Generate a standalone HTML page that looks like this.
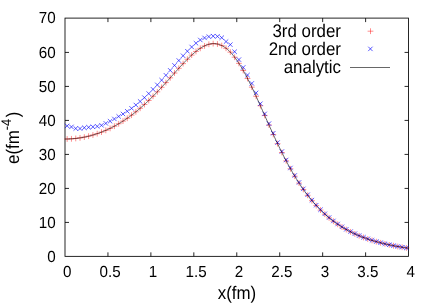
<!DOCTYPE html>
<html><head><meta charset="utf-8"><title>plot</title><style>html,body{margin:0;padding:0;background:#fff;width:436px;height:305px;overflow:hidden}</style></head><body>
<svg width="436" height="305" viewBox="0 0 436 305" style="position:absolute;left:0;top:0;will-change:transform">
<rect width="436" height="305" fill="#fff"/>
<g stroke="#000" stroke-width="0.85" fill="none">
<rect x="65.0" y="18.1" width="343.55" height="238.25000000000003"/>
<path d="M107.94 256.35V252.35000000000002M107.94 18.1V22.1M150.89 256.35V252.35000000000002M150.89 18.1V22.1M193.83 256.35V252.35000000000002M193.83 18.1V22.1M236.78 256.35V252.35000000000002M236.78 18.1V22.1M279.72 256.35V252.35000000000002M279.72 18.1V22.1M322.66 256.35V252.35000000000002M322.66 18.1V22.1M365.61 256.35V252.35000000000002M365.61 18.1V22.1M65.0 222.42H69.0M408.55 222.42H404.55M65.0 188.42H69.0M408.55 188.42H404.55M65.0 154.42H69.0M408.55 154.42H404.55M65.0 120.42H69.0M408.55 120.42H404.55M65.0 86.42H69.0M408.55 86.42H404.55M65.0 52.42H69.0M408.55 52.42H404.55"/>
</g>
<path d="M64.25 139.00H70.05M67.15 136.10V141.90M68.54 138.81H74.34M71.44 135.91V141.71M72.84 138.44H78.64M75.74 135.54V141.34M77.13 137.87H82.93M80.03 134.97V140.77M81.42 137.11H87.22M84.32 134.21V140.01M85.72 136.16H91.52M88.62 133.26V139.06M90.01 135.01H95.81M92.91 132.11V137.91M94.31 133.66H100.11M97.21 130.76V136.56M98.60 132.11H104.40M101.50 129.21V135.01M102.90 130.35H108.70M105.80 127.45V133.25M107.19 128.37H112.99M110.09 125.47V131.27M111.49 126.18H117.29M114.39 123.28V129.08M115.78 123.76H121.58M118.68 120.86V126.66M120.07 121.12H125.87M122.97 118.22V124.02M124.37 118.25H130.17M127.27 115.35V121.15M128.66 115.15H134.46M131.56 112.25V118.05M132.96 111.81H138.76M135.86 108.91V114.71M137.25 108.25H143.05M140.15 105.35V111.15M141.55 104.46H147.35M144.45 101.56V107.36M145.84 100.45H151.64M148.74 97.55V103.35M150.13 96.24H155.93M153.03 93.34V99.14M154.43 91.84H160.23M157.33 88.94V94.74M158.72 87.28H164.52M161.62 84.38V90.18M163.02 82.60H168.82M165.92 79.70V85.50M167.31 77.83H173.11M170.21 74.93V80.73M171.61 73.04H177.41M174.51 70.14V75.94M175.90 68.28H181.70M178.80 65.38V71.18M180.20 63.64H186.00M183.10 60.74V66.54M184.49 59.21H190.29M187.39 56.31V62.11M188.78 55.10H194.58M191.68 52.20V58.00M193.08 51.43H198.88M195.98 48.53V54.33M197.37 48.32H203.17M200.27 45.42V51.22M201.67 45.89H207.47M204.57 42.99V48.79M205.96 44.29H211.76M208.86 41.39V47.19M210.26 43.64H216.06M213.16 40.74V46.54M214.55 44.03H220.35M217.45 41.13V46.93M218.84 45.55H224.64M221.74 42.65V48.45M223.14 48.25H228.94M226.04 45.35V51.15M227.43 52.14H233.23M230.33 49.24V55.04M231.73 57.20H237.53M234.63 54.30V60.10M236.02 63.35H241.82M238.92 60.45V66.25M240.32 70.49H246.12M243.22 67.59V73.39M244.61 78.47H250.41M247.51 75.57V81.37M248.91 87.13H254.71M251.81 84.23V90.03M253.20 96.29H259.00M256.10 93.39V99.19M257.49 105.78H263.29M260.39 102.88V108.68M261.79 115.41H267.59M264.69 112.51V118.31M266.08 125.02H271.88M268.98 122.12V127.92M270.38 134.48H276.18M273.28 131.58V137.38M274.67 143.67H280.47M277.57 140.77V146.57M278.97 152.50H284.77M281.87 149.60V155.40M283.26 160.89H289.06M286.16 157.99V163.79M287.55 168.80H293.35M290.45 165.90V171.70M291.85 176.20H297.65M294.75 173.30V179.10M296.14 183.08H301.94M299.04 180.18V185.98M300.44 189.44H306.24M303.34 186.54V192.34M304.73 195.30H310.53M307.63 192.40V198.20M309.03 200.68H314.83M311.93 197.78V203.58M313.32 205.59H319.12M316.22 202.69V208.49M317.62 210.07H323.42M320.52 207.17V212.97M321.91 214.15H327.71M324.81 211.25V217.05M326.20 217.86H332.00M329.10 214.96V220.76M330.50 221.23H336.30M333.40 218.33V224.13M334.79 224.28H340.59M337.69 221.38V227.18M339.09 227.05H344.89M341.99 224.15V229.95M343.38 229.56H349.18M346.28 226.66V232.46M347.68 231.84H353.48M350.58 228.94V234.74M351.97 233.90H357.77M354.87 231.00V236.80M356.26 235.77H362.06M359.16 232.87V238.67M360.56 237.46H366.36M363.46 234.56V240.36M364.85 239.00H370.65M367.75 236.10V241.90M369.15 240.40H374.95M372.05 237.50V243.30M373.44 241.67H379.24M376.34 238.77V244.57M377.74 242.83H383.54M380.64 239.93V245.73M382.03 243.88H387.83M384.93 240.98V246.78M386.33 244.84H392.13M389.23 241.94V247.74M390.62 245.71H396.42M393.52 242.81V248.61M394.91 246.51H400.71M397.81 243.61V249.41M399.21 247.24H405.01M402.11 244.34V250.14M403.50 247.90H409.30M406.40 245.00V250.80M367.60 31.2H373.40M370.5 28.30V34.10" stroke="#f00" stroke-width="0.45" fill="none"/>
<path d="M64.95 123.70L69.35 128.10M64.95 128.10L69.35 123.70M69.24 124.70L73.64 129.10M69.24 129.10L73.64 124.70M73.54 126.30L77.94 130.70M73.54 130.70L77.94 126.30M77.83 126.38L82.23 130.78M77.83 130.78L82.23 126.38M82.12 125.55L86.52 129.95M82.12 129.95L86.52 125.55M86.42 125.11L90.82 129.51M86.42 129.51L90.82 125.11M90.71 124.64L95.11 129.04M90.71 129.04L95.11 124.64M95.01 124.15L99.41 128.55M95.01 128.55L99.41 124.15M99.30 123.10L103.70 127.50M99.30 127.50L103.70 123.10M103.60 121.17L108.00 125.57M103.60 125.57L108.00 121.17M107.89 119.02L112.29 123.42M107.89 123.42L112.29 119.02M112.19 116.75L116.59 121.15M112.19 121.15L116.59 116.75M116.48 114.24L120.88 118.64M116.48 118.64L120.88 114.24M120.77 111.77L125.17 116.17M120.77 116.17L125.17 111.77M125.07 109.07L129.47 113.47M125.07 113.47L129.47 109.07M129.36 106.14L133.76 110.54M129.36 110.54L133.76 106.14M133.66 102.81L138.06 107.21M133.66 107.21L138.06 102.81M137.95 99.24L142.35 103.64M137.95 103.64L142.35 99.24M142.25 95.45L146.65 99.85M142.25 99.85L146.65 95.45M146.54 91.39L150.94 95.79M146.54 95.79L150.94 91.39M150.83 87.12L155.23 91.52M150.83 91.52L155.23 87.12M155.13 82.66L159.53 87.06M155.13 87.06L159.53 82.66M159.42 77.94L163.82 82.34M159.42 82.34L163.82 77.94M163.72 73.08L168.12 77.48M163.72 77.48L168.12 73.08M168.01 68.14L172.41 72.54M168.01 72.54L172.41 68.14M172.31 63.18L176.71 67.58M172.31 67.58L176.71 63.18M176.60 58.31L181.00 62.71M176.60 62.71L181.00 58.31M180.90 53.56L185.30 57.96M180.90 57.96L185.30 53.56M185.19 49.01L189.59 53.41M185.19 53.41L189.59 49.01M189.48 44.79L193.88 49.19M189.48 49.19L193.88 44.79M193.78 41.00L198.18 45.40M193.78 45.40L198.18 41.00M198.07 37.78L202.47 42.18M198.07 42.18L202.47 37.78M202.37 35.70L206.77 40.10M202.37 40.10L206.77 35.70M206.66 34.44L211.06 38.84M206.66 38.84L211.06 34.44M210.96 33.95L215.36 38.35M210.96 38.35L215.36 33.95M215.25 34.17L219.65 38.57M215.25 38.57L219.65 34.17M219.54 35.52L223.94 39.92M219.54 39.92L223.94 35.52M223.84 39.41L228.24 43.81M223.84 43.81L228.24 39.41M228.13 42.46L232.53 46.86M228.13 46.86L232.53 42.46M232.43 49.55L236.83 53.95M232.43 53.95L236.83 49.55M236.72 57.41L241.12 61.81M236.72 61.81L241.12 57.41M241.02 65.22L245.42 69.62M241.02 69.62L245.42 65.22M245.31 72.86L249.71 77.26M245.31 77.26L249.71 72.86M249.61 81.19L254.01 85.59M249.61 85.59L254.01 81.19M253.90 90.69L258.30 95.09M253.90 95.09L258.30 90.69M258.19 101.53L262.59 105.93M258.19 105.93L262.59 101.53M262.49 111.68L266.89 116.08M262.49 116.08L266.89 111.68M266.78 121.40L271.18 125.80M266.78 125.80L271.18 121.40M271.08 131.01L275.48 135.41M271.08 135.41L275.48 131.01M275.37 140.37L279.77 144.77M275.37 144.77L279.77 140.37M279.67 149.32L284.07 153.72M279.67 153.72L284.07 149.32M283.96 157.79L288.36 162.19M283.96 162.19L288.36 157.79M288.25 165.79L292.65 170.19M288.25 170.19L292.65 165.79M292.55 173.27L296.95 177.67M292.55 177.67L296.95 173.27M296.84 180.23L301.24 184.63M296.84 184.63L301.24 180.23M301.14 186.65L305.54 191.05M301.14 191.05L305.54 186.65M305.43 192.56L309.83 196.96M305.43 196.96L309.83 192.56M309.73 197.99L314.13 202.39M309.73 202.39L314.13 197.99M314.02 202.97L318.42 207.37M314.02 207.37L318.42 202.97M318.32 207.50L322.72 211.90M318.32 211.90L322.72 207.50M322.61 211.62L327.01 216.02M322.61 216.02L327.01 211.62M326.90 215.35L331.30 219.75M326.90 219.75L331.30 215.35M331.20 218.73L335.60 223.13M331.20 223.13L335.60 218.73M335.49 221.80L339.89 226.20M335.49 226.20L339.89 221.80M339.79 224.59L344.19 228.99M339.79 228.99L344.19 224.59M344.08 227.11L348.48 231.51M344.08 231.51L348.48 227.11M348.38 229.41L352.78 233.81M348.38 233.81L352.78 229.41M352.67 231.48L357.07 235.88M352.67 235.88L357.07 231.48M356.96 233.37L361.36 237.77M356.96 237.77L361.36 233.37M361.26 235.08L365.66 239.48M361.26 239.48L365.66 235.08M365.55 236.64L369.95 241.04M365.55 241.04L369.95 236.64M369.85 238.05L374.25 242.45M369.85 242.45L374.25 238.05M374.14 239.34L378.54 243.74M374.14 243.74L378.54 239.34M378.44 240.51L382.84 244.91M378.44 244.91L382.84 240.51M382.73 241.58L387.13 245.98M382.73 245.98L387.13 241.58M387.03 242.56L391.43 246.96M387.03 246.96L391.43 242.56M391.32 243.45L395.72 247.85M391.32 247.85L395.72 243.45M395.61 244.26L400.01 248.66M395.61 248.66L400.01 244.26M399.91 245.01L404.31 249.41M399.91 249.41L404.31 245.01M404.20 245.69L408.60 250.09M404.20 250.09L408.60 245.69M368.20 46.70L372.60 51.10M368.20 51.10L372.60 46.70" stroke="#00f" stroke-width="0.65" fill="none"/>
<polyline points="65.00,139.03 65.86,139.02 66.72,139.01 67.58,138.99 68.44,138.97 69.29,138.93 70.15,138.89 71.01,138.84 71.87,138.79 72.73,138.72 73.59,138.65 74.45,138.57 75.31,138.48 76.17,138.39 77.02,138.29 77.88,138.18 78.74,138.06 79.60,137.94 80.46,137.80 81.32,137.66 82.18,137.52 83.04,137.36 83.90,137.20 84.75,137.03 85.61,136.85 86.47,136.66 87.33,136.47 88.19,136.27 89.05,136.06 89.91,135.84 90.77,135.61 91.63,135.38 92.48,135.14 93.34,134.89 94.20,134.63 95.06,134.36 95.92,134.09 96.78,133.81 97.64,133.52 98.50,133.22 99.36,132.91 100.21,132.60 101.07,132.27 101.93,131.94 102.79,131.60 103.65,131.26 104.51,130.90 105.37,130.53 106.23,130.16 107.08,129.78 107.94,129.39 108.80,128.99 109.66,128.58 110.52,128.16 111.38,127.74 112.24,127.30 113.10,126.86 113.96,126.41 114.81,125.95 115.67,125.48 116.53,125.00 117.39,124.51 118.25,124.01 119.11,123.51 119.97,122.99 120.83,122.47 121.69,121.94 122.54,121.39 123.40,120.84 124.26,120.28 125.12,119.71 125.98,119.14 126.84,118.55 127.70,117.95 128.56,117.34 129.42,116.73 130.27,116.10 131.13,115.47 131.99,114.82 132.85,114.17 133.71,113.51 134.57,112.84 135.43,112.16 136.29,111.47 137.15,110.77 138.00,110.06 138.86,109.34 139.72,108.62 140.58,107.88 141.44,107.14 142.30,106.38 143.16,105.62 144.02,104.85 144.88,104.07 145.73,103.28 146.59,102.48 147.45,101.68 148.31,100.86 149.17,100.04 150.03,99.21 150.89,98.37 151.75,97.52 152.61,96.67 153.46,95.81 154.32,94.94 155.18,94.06 156.04,93.18 156.90,92.29 157.76,91.39 158.62,90.49 159.48,89.58 160.34,88.67 161.19,87.75 162.05,86.82 162.91,85.89 163.77,84.95 164.63,84.01 165.49,83.07 166.35,82.12 167.21,81.17 168.06,80.22 168.92,79.27 169.78,78.31 170.64,77.35 171.50,76.39 172.36,75.43 173.22,74.47 174.08,73.51 174.94,72.56 175.79,71.60 176.65,70.65 177.51,69.70 178.37,68.75 179.23,67.81 180.09,66.87 180.95,65.94 181.81,65.01 182.67,64.10 183.52,63.19 184.38,62.29 185.24,61.39 186.10,60.51 186.96,59.64 187.82,58.79 188.68,57.94 189.54,57.11 190.40,56.30 191.25,55.50 192.11,54.71 192.97,53.95 193.83,53.20 194.69,52.48 195.55,51.77 196.41,51.09 197.27,50.43 198.13,49.79 198.98,49.18 199.84,48.60 200.70,48.04 201.56,47.51 202.42,47.01 203.28,46.54 204.14,46.10 205.00,45.70 205.86,45.32 206.71,44.98 207.57,44.68 208.43,44.41 209.29,44.18 210.15,43.99 211.01,43.84 211.87,43.73 212.73,43.66 213.59,43.63 214.44,43.64 215.30,43.70 216.16,43.80 217.02,43.94 217.88,44.13 218.74,44.36 219.60,44.64 220.46,44.97 221.32,45.34 222.17,45.77 223.03,46.23 223.89,46.75 224.75,47.31 225.61,47.93 226.47,48.59 227.33,49.29 228.19,50.05 229.05,50.85 229.90,51.70 230.76,52.60 231.62,53.54 232.48,54.53 233.34,55.56 234.20,56.64 235.06,57.77 235.92,58.94 236.78,60.15 237.63,61.40 238.49,62.69 239.35,64.02 240.21,65.39 241.07,66.80 241.93,68.25 242.79,69.73 243.65,71.25 244.50,72.80 245.36,74.38 246.22,75.99 247.08,77.64 247.94,79.31 248.80,81.00 249.66,82.72 250.52,84.47 251.38,86.24 252.23,88.03 253.09,89.83 253.95,91.66 254.81,93.50 255.67,95.36 256.53,97.23 257.39,99.11 258.25,101.01 259.11,102.91 259.96,104.82 260.82,106.74 261.68,108.66 262.54,110.58 263.40,112.51 264.26,114.44 265.12,116.37 265.98,118.30 266.84,120.23 267.69,122.15 268.55,124.07 269.41,125.98 270.27,127.88 271.13,129.78 271.99,131.67 272.85,133.55 273.71,135.42 274.57,137.27 275.42,139.12 276.28,140.95 277.14,142.77 278.00,144.57 278.86,146.36 279.72,148.14 280.58,149.89 281.44,151.63 282.30,153.36 283.15,155.06 284.01,156.75 284.87,158.42 285.73,160.07 286.59,161.70 287.45,163.31 288.31,164.90 289.17,166.48 290.03,168.03 290.88,169.56 291.74,171.07 292.60,172.56 293.46,174.03 294.32,175.48 295.18,176.91 296.04,178.32 296.90,179.70 297.76,181.07 298.61,182.41 299.47,183.74 300.33,185.04 301.19,186.33 302.05,187.59 302.91,188.83 303.77,190.05 304.63,191.25 305.49,192.43 306.34,193.60 307.20,194.74 308.06,195.86 308.92,196.96 309.78,198.05 310.64,199.11 311.50,200.16 312.36,201.19 313.21,202.20 314.07,203.19 314.93,204.16 315.79,205.12 316.65,206.06 317.51,206.98 318.37,207.88 319.23,208.77 320.09,209.64 320.94,210.50 321.80,211.34 322.66,212.16 323.52,212.97 324.38,213.76 325.24,214.54 326.10,215.30 326.96,216.05 327.82,216.79 328.67,217.51 329.53,218.21 330.39,218.91 331.25,219.59 332.11,220.25 332.97,220.91 333.83,221.55 334.69,222.18 335.55,222.79 336.40,223.40 337.26,223.99 338.12,224.57 338.98,225.14 339.84,225.70 340.70,226.25 341.56,226.79 342.42,227.31 343.28,227.83 344.13,228.34 344.99,228.83 345.85,229.32 346.71,229.80 347.57,230.27 348.43,230.73 349.29,231.18 350.15,231.62 351.01,232.05 351.86,232.48 352.72,232.89 353.58,233.30 354.44,233.70 355.30,234.09 356.16,234.48 357.02,234.85 357.88,235.22 358.74,235.59 359.59,235.94 360.45,236.29 361.31,236.64 362.17,236.97 363.03,237.30 363.89,237.62 364.75,237.94 365.61,238.25 366.47,238.56 367.32,238.85 368.18,239.15 369.04,239.44 369.90,239.72 370.76,239.99 371.62,240.27 372.48,240.53 373.34,240.79 374.19,241.05 375.05,241.30 375.91,241.55 376.77,241.79 377.63,242.03 378.49,242.26 379.35,242.49 380.21,242.71 381.07,242.94 381.92,243.15 382.78,243.36 383.64,243.57 384.50,243.78 385.36,243.98 386.22,244.17 387.08,244.37 387.94,244.56 388.80,244.74 389.65,244.93 390.51,245.11 391.37,245.28 392.23,245.46 393.09,245.63 393.95,245.79 394.81,245.96 395.67,246.12 396.53,246.28 397.38,246.43 398.24,246.58 399.10,246.73 399.96,246.88 400.82,247.02 401.68,247.17 402.54,247.31 403.40,247.44 404.26,247.58 405.11,247.71 405.97,247.84 406.83,247.97 407.69,248.09 408.55,248.21" stroke="#000" stroke-width="0.6" fill="none"/>
<path d="M350 67.5H390" stroke="#000" stroke-width="0.6" fill="none"/>
<g font-family="Liberation Sans, sans-serif" fill="#000" text-rendering="geometricPrecision">
<text transform="translate(55.60,261.87) scale(1,1.06)" text-anchor="end" font-size="15.2">0</text>
<text transform="translate(55.60,227.87) scale(1,1.06)" text-anchor="end" font-size="15.2">10</text>
<text transform="translate(55.60,193.87) scale(1,1.06)" text-anchor="end" font-size="15.2">20</text>
<text transform="translate(55.60,159.87) scale(1,1.06)" text-anchor="end" font-size="15.2">30</text>
<text transform="translate(55.60,125.87) scale(1,1.06)" text-anchor="end" font-size="15.2">40</text>
<text transform="translate(55.60,91.87) scale(1,1.06)" text-anchor="end" font-size="15.2">50</text>
<text transform="translate(55.60,57.87) scale(1,1.06)" text-anchor="end" font-size="15.2">60</text>
<text transform="translate(55.60,23.37) scale(1,1.06)" text-anchor="end" font-size="15.2">70</text>
<text transform="translate(67.20,277.20) scale(1,1.06)" text-anchor="middle" font-size="15.2">0</text>
<text transform="translate(110.14,277.20) scale(1,1.06)" text-anchor="middle" font-size="15.2">0.5</text>
<text transform="translate(153.09,277.20) scale(1,1.06)" text-anchor="middle" font-size="15.2">1</text>
<text transform="translate(196.03,277.20) scale(1,1.06)" text-anchor="middle" font-size="15.2">1.5</text>
<text transform="translate(238.97,277.20) scale(1,1.06)" text-anchor="middle" font-size="15.2">2</text>
<text transform="translate(281.92,277.20) scale(1,1.06)" text-anchor="middle" font-size="15.2">2.5</text>
<text transform="translate(324.86,277.20) scale(1,1.06)" text-anchor="middle" font-size="15.2">3</text>
<text transform="translate(367.81,277.20) scale(1,1.06)" text-anchor="middle" font-size="15.2">3.5</text>
<text transform="translate(410.75,277.20) scale(1,1.06)" text-anchor="middle" font-size="15.2">4</text>
<text transform="translate(237.00,299.00) scale(1,1.08)" text-anchor="middle" font-size="16.9">x(fm)</text>
<text transform="translate(19.1,137.8) rotate(-90) scale(1,1.08)" text-anchor="middle" font-size="16.9">e(fm<tspan dy="-7.2" font-size="12.8">-4</tspan><tspan dy="7.2" dx="1.5">)</tspan></text>
<text transform="translate(341.00,36.60) scale(1,1.08)" text-anchor="end" font-size="16.9">3rd order</text>
<text transform="translate(341.00,54.90) scale(1,1.08)" text-anchor="end" font-size="16.9">2nd order</text>
<text transform="translate(341.00,72.80) scale(1,1.08)" text-anchor="end" font-size="16.9">analytic</text>
</g>
</svg>
</body></html>
